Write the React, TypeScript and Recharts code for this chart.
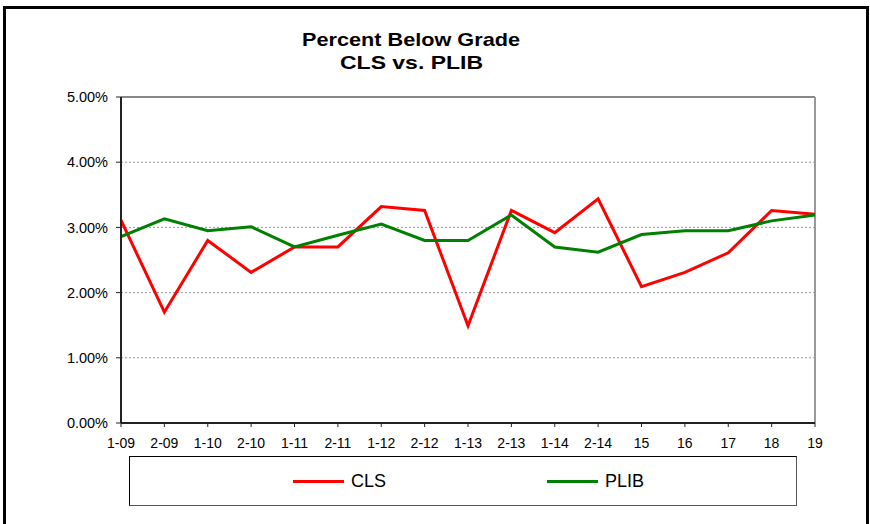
import React from 'react';
import { LineChart, Line, XAxis, YAxis, CartesianGrid, Legend, ReferenceLine } from 'recharts';

const categories = ['1-09', '2-09', '1-10', '2-10', '1-11', '2-11', '1-12', '2-12', '1-13', '2-13', '1-14', '2-14', '15', '16', '17', '18', '19'];
const clsValues = [3.11, 1.70, 2.80, 2.31, 2.70, 2.70, 3.32, 3.26, 1.49, 3.26, 2.92, 3.44, 2.09, 2.31, 2.61, 3.26, 3.20];
const plibValues = [2.86, 3.13, 2.95, 3.01, 2.70, 2.88, 3.05, 2.80, 2.80, 3.19, 2.70, 2.62, 2.89, 2.95, 2.95, 3.10, 3.19];
const yTicks = [0, 1, 2, 3, 4, 5];
const titleLines = ['Percent Below Grade', 'CLS vs. PLIB'];

const data = categories.map((c, i) => ({ cat: c, CLS: clsValues[i], PLIB: plibValues[i] }));

const FONT = '"Liberation Sans", Arial, sans-serif';

const LegendContent = (props: any) => {
  const items = props.payload || [];
  const pos: Record<string, number> = { CLS: 163, PLIB: 417 };
  return (
    <div style={{ position: 'relative', width: 668, height: 50, boxSizing: 'border-box', border: '1px solid #000', borderRight: '1px solid #555', borderBottom: '1px solid #555', background: '#fff' }}>
      {items.map((it: any) => (
        <div key={it.value} style={{ position: 'absolute', left: pos[it.value], top: 14, display: 'flex', alignItems: 'center', fontFamily: FONT, fontSize: 18, color: '#000' }}>
          <div style={{ width: 51, height: 3, background: it.color, marginRight: 7 }} />
          <span>{it.value}</span>
        </div>
      ))}
    </div>
  );
};

export default function App() {
  return (
    <div style={{ position: 'absolute', left: 0, top: 0, width: 870, height: 524, background: '#fff', overflow: 'hidden' }}>
      <div style={{ position: 'absolute', left: 3, top: 6, width: 866, height: 540, boxSizing: 'border-box', border: '3px solid #000' }} />
      <div style={{ position: 'absolute', left: 0, top: 0 }}>
        <LineChart width={870} height={524} data={data} margin={{ top: 97, right: 55, bottom: 71, left: 0 }}>
          <text x={411} y={46} textAnchor="middle" fontFamily={FONT} fontSize={19} fontWeight="bold" fill="#000" textLength={218} lengthAdjust="spacingAndGlyphs">{titleLines[0]}</text>
          <text x={411.5} y={68.5} textAnchor="middle" fontFamily={FONT} fontSize={19} fontWeight="bold" fill="#000" textLength={143} lengthAdjust="spacingAndGlyphs">{titleLines[1]}</text>
          <CartesianGrid vertical={false} stroke="#999" strokeDasharray="2 2" />
          <ReferenceLine y={5} stroke="#888" strokeWidth={2} />
          <ReferenceLine x="19" stroke="#999" strokeWidth={2} />
          <XAxis
            dataKey="cat"
            height={30}
            interval={0}
            tickSize={4}
            tickMargin={11}
            axisLine={{ stroke: '#222', strokeWidth: 2 }}
            tickLine={{ stroke: '#222', strokeWidth: 1 }}
            tick={{ fill: '#000', fontSize: 14, fontFamily: FONT }}
          />
          <YAxis
            width={121}
            domain={[0, 5]}
            ticks={yTicks}
            interval={0}
            tickSize={5}
            tickMargin={8}
            tickFormatter={(v: number) => `${v.toFixed(2)}%`}
            axisLine={{ stroke: '#222', strokeWidth: 2 }}
            tickLine={{ stroke: '#222', strokeWidth: 1 }}
            tick={{ fill: '#000', fontSize: 14.5, fontFamily: FONT }}
          />
          <Line type="linear" dataKey="CLS" stroke="#FF0000" strokeWidth={3} dot={false} activeDot={false} isAnimationActive={false} />
          <Line type="linear" dataKey="PLIB" stroke="#008000" strokeWidth={3} dot={false} activeDot={false} isAnimationActive={false} />
          <Legend
            layout="horizontal"
            verticalAlign="middle"
            align="center"
            content={LegendContent}
            wrapperStyle={{ position: 'absolute', left: 129, top: 456, width: 668, height: 50, margin: 0 }}
          />
        </LineChart>
      </div>
    </div>
  );
}
